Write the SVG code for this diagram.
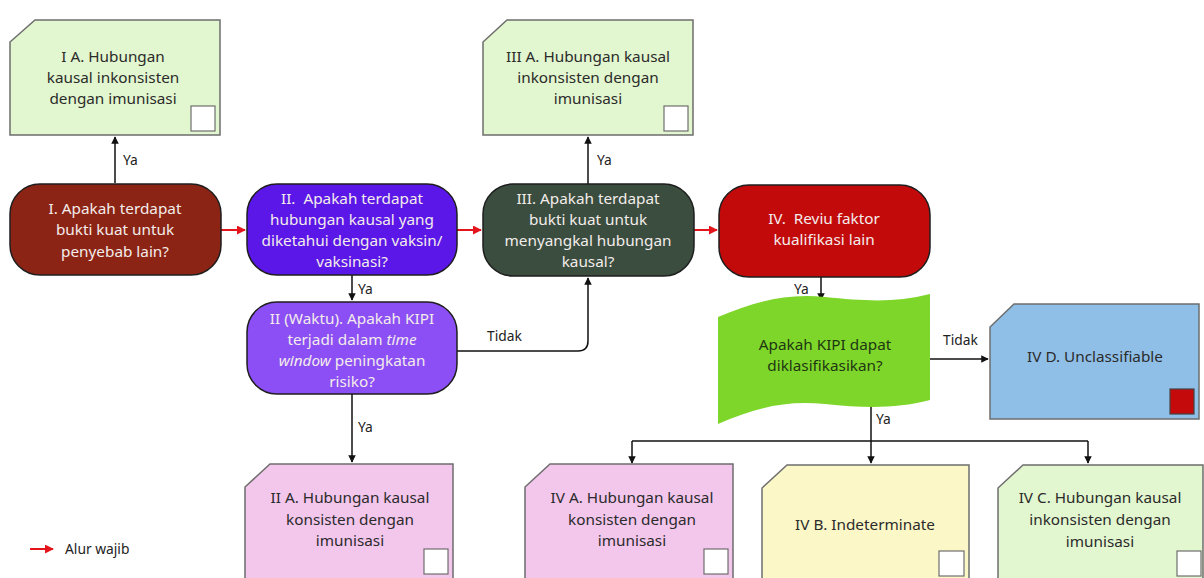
<svg xmlns="http://www.w3.org/2000/svg" width="1204" height="578" viewBox="0 0 1204 578">
<defs>
<style>
.t{font-family:"Noto Sans","Open Sans",sans-serif;font-size:15.3px;text-anchor:middle}
.lt{fill:#F3ECEA}
.dk{fill:#2B2B2B}
.lbl{font-family:"Noto Sans","Open Sans",sans-serif;font-size:13.8px;fill:#222}
.dec{stroke:#1E1E1E;stroke-width:1.5}
.box{stroke:#6E6E6E;stroke-width:1.5}
.sq{fill:#FFFFFF;stroke:#6E6E6E;stroke-width:1.2}
.c{fill:none;stroke:#111;stroke-width:1.5}
.r{fill:none;stroke:#E3141B;stroke-width:2}
</style>
<marker id="ah" viewBox="0 0 10 10" refX="9" refY="5" markerWidth="5" markerHeight="5" orient="auto"><path d="M0,0 L10,5 L0,10 z" fill="#111"/></marker>
<marker id="rh" viewBox="0 0 10 10" refX="9" refY="5" markerWidth="4.5" markerHeight="4.5" orient="auto"><path d="M0,0 L10,5 L0,10 z" fill="#E3141B"/></marker>
</defs>
<rect width="1204" height="578" fill="#FFFFFF"/>

<g id="connectors">
<path class="c" d="M115,183 V137" marker-end="url(#ah)"/>
<path class="c" d="M588,184 V137" marker-end="url(#ah)"/>
<path class="r" d="M221,230 H245" marker-end="url(#rh)"/>
<path class="r" d="M457,230 H481" marker-end="url(#rh)"/>
<path class="r" d="M694,230 H717" marker-end="url(#rh)"/>
<path class="c" d="M352,275 V300" marker-end="url(#ah)"/>
<path class="c" d="M457,351 H578 Q588,351 588,341 V278" marker-end="url(#ah)"/>
<path class="c" d="M821,277 V300" marker-end="url(#ah)"/>
<path class="c" d="M352,394 V462" marker-end="url(#ah)"/>
<path class="c" d="M930,359 H988" marker-end="url(#ah)"/>
<path class="c" d="M871,404 V441"/>
<path class="c" d="M632,441 H1088"/>
<path class="c" d="M632,441 V463" marker-end="url(#ah)"/>
<path class="c" d="M871,441 V463" marker-end="url(#ah)"/>
<path class="c" d="M1088,441 V463" marker-end="url(#ah)"/>
<path class="r" d="M30,549 H53" marker-end="url(#rh)"/>
</g>

<g id="labels">
<text class="lbl" x="123" y="165">Ya</text>
<text class="lbl" x="597" y="165">Ya</text>
<text class="lbl" x="358" y="294">Ya</text>
<text class="lbl" x="487" y="341">Tidak</text>
<text class="lbl" x="794" y="294">Ya</text>
<text class="lbl" x="358" y="432">Ya</text>
<text class="lbl" x="943" y="345">Tidak</text>
<text class="lbl" x="876" y="424">Ya</text>
<text class="lbl" x="65" y="554">Alur wajib</text>
</g>

<g id="nodeIA">
<path class="box" d="M35,20 H220 V135 H10 V42 Z" fill="#E2F6CF"/>
<rect class="sq" x="191" y="106" width="24" height="25"/>
<text class="t dk" x="113" y="62">I A. Hubungan</text>
<text class="t dk" x="113" y="83">kausal inkonsisten</text>
<text class="t dk" x="113" y="104">dengan imunisasi</text>
</g>

<g id="nodeIIIA">
<path class="box" d="M507,20 H693 V135 H483 V42 Z" fill="#E2F6CF"/>
<rect class="sq" x="664" y="106" width="24" height="25"/>
<text class="t dk" x="588" y="62">III A. Hubungan kausal</text>
<text class="t dk" x="588" y="83">inkonsisten dengan</text>
<text class="t dk" x="588" y="104">imunisasi</text>
</g>

<g id="nodeI">
<rect class="dec" x="10" y="184" width="211" height="91" rx="30" fill="#8C2415"/>
<text class="t lt" x="115" y="214">I. Apakah terdapat</text>
<text class="t lt" x="115" y="235">bukti kuat untuk</text>
<text class="t lt" x="115" y="257">penyebab lain?</text>
</g>

<g id="nodeII">
<rect class="dec" x="247" y="184" width="210" height="91" rx="30" fill="#5B17E8"/>
<text class="t lt" x="352" y="204">II.&#160; Apakah terdapat</text>
<text class="t lt" x="352" y="225">hubungan kausal yang</text>
<text class="t lt" x="352" y="246">diketahui dengan vaksin/</text>
<text class="t lt" x="352" y="267">vaksinasi?</text>
</g>

<g id="nodeIIW">
<rect class="dec" x="247" y="302" width="210" height="92" rx="30" fill="#8B4FF5"/>
<text class="t lt" x="352" y="324">II (Waktu). Apakah KIPI</text>
<text class="t lt" x="352" y="345">terjadi dalam <tspan font-style="italic">time</tspan></text>
<text class="t lt" x="352" y="366"><tspan font-style="italic">window</tspan> peningkatan</text>
<text class="t lt" x="352" y="387">risiko?</text>
</g>

<g id="nodeIII">
<rect class="dec" x="483" y="184" width="211" height="92" rx="30" fill="#3A4D3F"/>
<text class="t lt" x="588" y="204">III. Apakah terdapat</text>
<text class="t lt" x="588" y="225">bukti kuat untuk</text>
<text class="t lt" x="588" y="246">menyangkal hubungan</text>
<text class="t lt" x="588" y="267">kausal?</text>
</g>

<g id="nodeIV">
<rect class="dec" x="719" y="185" width="211" height="92" rx="30" fill="#C30A0B"/>
<text class="t lt" x="824" y="224">IV.&#160; Reviu faktor</text>
<text class="t lt" x="824" y="245">kualifikasi lain</text>
</g>

<g id="nodeQ">
<path d="M718,317 C755,302 785,293 825,297 C865,301 895,303 930,294 L930,400 C895,409 865,408 825,404 C785,400 755,408 718,424 Z" fill="#7ED62A"/>
<text class="t" fill="#1E3612" x="825" y="350">Apakah KIPI dapat</text>
<text class="t" fill="#1E3612" x="825" y="371">diklasifikasikan?</text>
</g>

<g id="nodeIVD">
<path class="box" d="M1014,304 H1199 V419 H990 V327 Z" fill="#8FBFE6"/>
<rect x="1170" y="389" width="24" height="25" fill="#C40A0A" stroke="#444" stroke-width="1.2"/>
<text class="t dk" x="1095" y="362">IV D. Unclassifiable</text>
</g>

<g id="nodeIIA">
<path class="box" d="M270,464 H453 V590 H245 V487 Z" fill="#F3C6EC"/>
<rect class="sq" x="424" y="549" width="24" height="25"/>
<text class="t dk" x="350" y="503">II A. Hubungan kausal</text>
<text class="t dk" x="350" y="525">konsisten dengan</text>
<text class="t dk" x="350" y="546">imunisasi</text>
</g>

<g id="nodeIVA">
<path class="box" d="M550,464 H733 V590 H525 V487 Z" fill="#F3C6EC"/>
<rect class="sq" x="704" y="549" width="24" height="25"/>
<text class="t dk" x="632" y="503">IV A. Hubungan kausal</text>
<text class="t dk" x="632" y="525">konsisten dengan</text>
<text class="t dk" x="632" y="546">imunisasi</text>
</g>

<g id="nodeIVB">
<path class="box" d="M787,465 H969 V590 H762 V488 Z" fill="#FBF7C7"/>
<rect class="sq" x="939" y="551" width="25" height="25"/>
<text class="t dk" x="865" y="530">IV B. Indeterminate</text>
</g>

<g id="nodeIVC">
<path class="box" d="M1023,465 H1203 V590 H998 V488 Z" fill="#E2F6CF"/>
<rect class="sq" x="1177" y="551" width="24" height="25"/>
<text class="t dk" x="1100" y="503">IV C. Hubungan kausal</text>
<text class="t dk" x="1100" y="525">inkonsisten dengan</text>
<text class="t dk" x="1100" y="547">imunisasi</text>
</g>
</svg>
